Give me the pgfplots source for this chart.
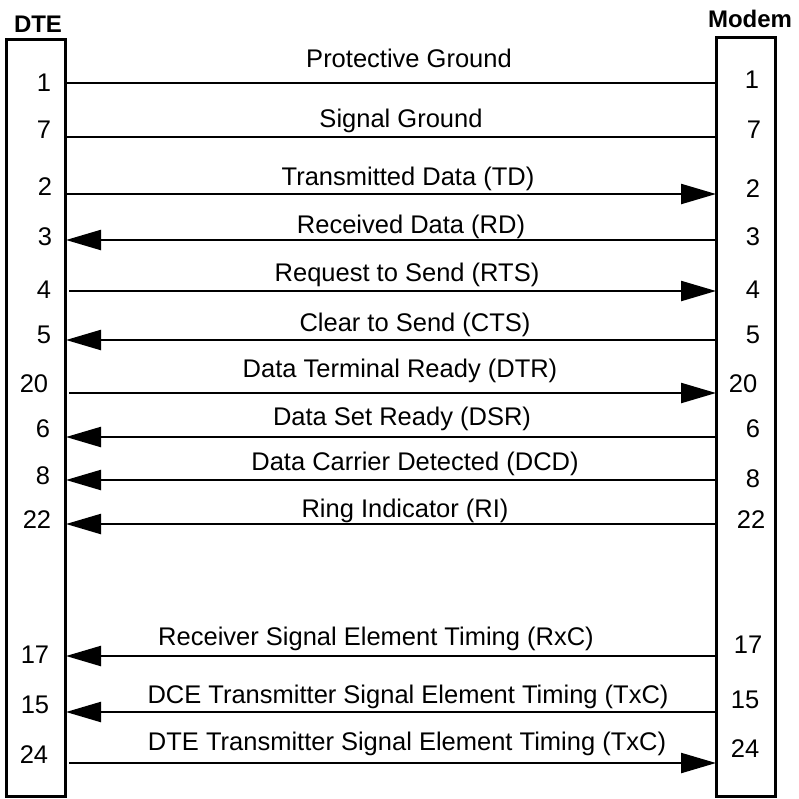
\documentclass[border=0pt]{standalone}
\usepackage{pgfplots}
\pgfplotsset{compat=1.18}
\usetikzlibrary{arrows.meta}
\usepackage{fontspec}
\setmainfont{Liberation Sans}
\begin{document}
\begin{tikzpicture}[every node/.style={font=\fontsize{25.5}{30}\selectfont, inner sep=0pt, anchor=base}]
\begin{axis}[hide axis, scale only axis, width=799pt, height=798pt,
  xmin=0, xmax=799, ymin=0, ymax=798, y dir=reverse, clip=false,
  cycle list={{black, no markers}},
  every axis plot/.append style={black, no markers, line width=2.3pt}]
% full extent of the picture
\path (axis cs:0,0) rectangle (axis cs:799,798);
% boxes
\addplot[black, no markers, line width=3pt] coordinates {(6.5,39) (65,39) (65,796) (6.5,796)} -- cycle;
\addplot[black, no markers, line width=3pt] coordinates {(716.5,37) (775.5,37) (775.5,796) (716.5,796)} -- cycle;
% plain lines
\addplot[black, no markers, line width=2.3pt] coordinates {(66,83) (716,83)};
\addplot[black, no markers, line width=2.3pt] coordinates {(66,137) (716,137)};
% arrows to the right
\addplot[black, no markers, line width=2.3pt, -{Triangle[length=35pt,width=20pt]}] coordinates {(66,194) (716,194)};
\addplot[black, no markers, line width=2.3pt, -{Triangle[length=35pt,width=20pt]}] coordinates {(69,291) (716,291)};
\addplot[black, no markers, line width=2.3pt, -{Triangle[length=35pt,width=20pt]}] coordinates {(69,393) (716,393)};
\addplot[black, no markers, line width=2.3pt, -{Triangle[length=35pt,width=20pt]}] coordinates {(69,763) (716,763)};
% arrows to the left
\addplot[black, no markers, line width=2.3pt, -{Triangle[length=35pt,width=20pt]}] coordinates {(716,240) (66,240)};
\addplot[black, no markers, line width=2.3pt, -{Triangle[length=35pt,width=20pt]}] coordinates {(716,340) (66,340)};
\addplot[black, no markers, line width=2.3pt, -{Triangle[length=35pt,width=20pt]}] coordinates {(716,437) (66,437)};
\addplot[black, no markers, line width=2.3pt, -{Triangle[length=35pt,width=20pt]}] coordinates {(716,480) (66,480)};
\addplot[black, no markers, line width=2.3pt, -{Triangle[length=35pt,width=20pt]}] coordinates {(716,524) (66,524)};
\addplot[black, no markers, line width=2.3pt, -{Triangle[length=35pt,width=20pt]}] coordinates {(716,656) (66,656)};
\addplot[black, no markers, line width=2.3pt, -{Triangle[length=35pt,width=20pt]}] coordinates {(716,712) (66,712)};
% headers
\node[font=\fontsize{24}{28}\selectfont\bfseries] at (axis cs:38,32) {DTE};
\node[font=\fontsize{24}{28}\selectfont\bfseries] at (axis cs:750,27) {Modem};
% signal labels
\node at (axis cs:409,67) {Protective Ground};
\node at (axis cs:401,127) {Signal Ground};
\node at (axis cs:408,185) {Transmitted Data (TD)};
\node at (axis cs:411,233) {Received Data (RD)};
\node at (axis cs:407,281) {Request to Send (RTS)};
\node at (axis cs:415,331) {Clear to Send (CTS)};
\node at (axis cs:400,377) {Data Terminal Ready (DTR)};
\node at (axis cs:402,425) {Data Set Ready (DSR)};
\node at (axis cs:415,470) {Data Carrier Detected (DCD)};
\node at (axis cs:405,517) {Ring Indicator (RI)};
\node at (axis cs:376,645) {Receiver Signal Element Timing (RxC)};
\node at (axis cs:408,703) {DCE Transmitter Signal Element Timing (TxC)};
\node at (axis cs:407,750) {DTE Transmitter Signal Element Timing (TxC)};
% left pin numbers
\node at (axis cs:44,91) {1};
\node at (axis cs:44,138) {7};
\node at (axis cs:45,195) {2};
\node at (axis cs:45,245) {3};
\node at (axis cs:44,298) {4};
\node at (axis cs:44,343) {5};
\node at (axis cs:34,392) {20};
\node at (axis cs:43,437) {6};
\node at (axis cs:43,484) {8};
\node at (axis cs:37,528) {22};
\node at (axis cs:35,663) {17};
\node at (axis cs:35,713) {15};
\node at (axis cs:34,763) {24};
% right pin numbers
\node at (axis cs:752,88) {1};
\node at (axis cs:754,138) {7};
\node at (axis cs:753,197) {2};
\node at (axis cs:753,245) {3};
\node at (axis cs:753,298) {4};
\node at (axis cs:753,343) {5};
\node at (axis cs:743,392) {20};
\node at (axis cs:753,437) {6};
\node at (axis cs:753,487) {8};
\node at (axis cs:751,528) {22};
\node at (axis cs:748,653) {17};
\node at (axis cs:745,708) {15};
\node at (axis cs:745,757) {24};
\end{axis}
\end{tikzpicture}
\end{document}
